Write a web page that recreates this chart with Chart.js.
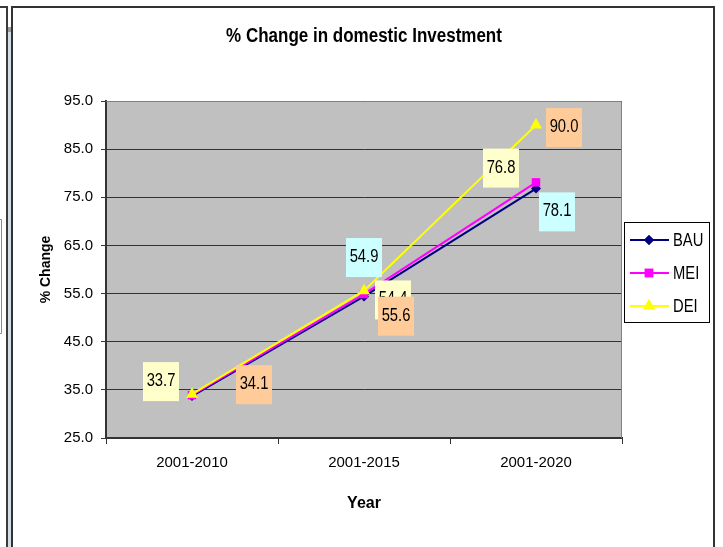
<!DOCTYPE html>
<html>
<head>
<meta charset="utf-8">
<script src="https://cdn.jsdelivr.net/npm/chart.js@4.4.1/dist/chart.umd.min.js"></script>
<style>
  html, body { margin: 0; padding: 0; background: #fff; }
  #wrap { position: relative; width: 723px; height: 547px; }
</style>
</head>
<body>
<div id="wrap"><canvas id="grafico" width="723" height="547"></canvas></div>
<script>
const categorias = ['2001-2010', '2001-2015', '2001-2020'];
const bau = [33.7, 54.4, 76.8];
const mei = [33.9, 54.9, 78.1];
const dei = [34.1, 55.6, 90.0];
const seriesNombres = ['BAU', 'MEI', 'DEI'];
const ejeYMin = 25;
const ejeYMax = 95;
const ejeYPaso = 10;

const fuente = "'Liberation Sans', Arial, sans-serif";

// where each value box sits relative to its point (null = not shown)
const desfases = [
    [[-31, -15], [29, 3], [-35, -21]],
    [null, [0, -37], [21, 29]],
    [[62, -10], [32, 25], [28, 2]]
];
const coloresCaja = ['#FFFFCC', '#CCFFFF', '#FFCC99'];

// the original text is narrow, so squeeze it sideways
function textoAngosto(ctx, texto, x, y, escala) {
    ctx.save();
    ctx.translate(x, y);
    ctx.scale(escala, 1);
    ctx.fillText(texto, 0, 0);
    ctx.restore();
}

const marcoPlugin = {
    id: 'marco',
    beforeDraw(chart) {
        const ctx = chart.ctx;
        const a = chart.chartArea;
        ctx.save();
        // bits of the sheet on the left
        ctx.fillStyle = '#d3dde8';
        ctx.fillRect(8, 30, 3, 517);
        ctx.fillStyle = '#9a9a9a';
        ctx.fillRect(8, 27, 3, 5);
        ctx.strokeStyle = '#3a3a3a';
        ctx.lineWidth = 2;
        ctx.beginPath();
        ctx.moveTo(0, 7); ctx.lineTo(7, 7); ctx.lineTo(7, 547);
        ctx.stroke();
        ctx.strokeStyle = '#8a8a8a';
        ctx.lineWidth = 1;
        ctx.beginPath();
        ctx.moveTo(0, 219.5); ctx.lineTo(1.5, 219.5); ctx.lineTo(1.5, 333.5); ctx.lineTo(0, 333.5);
        ctx.stroke();
        // chart frame
        ctx.strokeStyle = '#333';
        ctx.lineWidth = 2;
        ctx.beginPath();
        ctx.moveTo(12, 548); ctx.lineTo(12, 7); ctx.lineTo(714, 7); ctx.lineTo(714, 548);
        ctx.stroke();
        // plot area
        ctx.fillStyle = '#C0C0C0';
        ctx.fillRect(a.left, a.top, a.right - a.left, a.bottom - a.top);
        // title
        ctx.fillStyle = '#000';
        ctx.font = 'bold 20px ' + fuente;
        ctx.textAlign = 'center';
        ctx.textBaseline = 'middle';
        textoAngosto(ctx, '% Change in domestic Investment', 364, 36, 0.85);
        ctx.restore();
    },
    beforeDatasetsDraw(chart) {
        const ctx = chart.ctx;
        const a = chart.chartArea;
        ctx.save();
        ctx.strokeStyle = '#808080';
        ctx.lineWidth = 1;
        ctx.beginPath();
        ctx.moveTo(a.left, a.top + 0.5); ctx.lineTo(a.right - 0.5, a.top + 0.5); ctx.lineTo(a.right - 0.5, a.bottom);
        ctx.stroke();
        ctx.restore();
    }
};

const etiquetasPlugin = {
    id: 'etiquetas',
    afterDatasetsDraw(chart) {
        const ctx = chart.ctx;
        ctx.save();
        ctx.font = '18px ' + fuente;
        ctx.textAlign = 'center';
        ctx.textBaseline = 'middle';
        chart.data.datasets.forEach((ds, i) => {
            const meta = chart.getDatasetMeta(i);
            meta.data.forEach((p, j) => {
                const d = desfases[i][j];
                if (!d) return;
                const cx = p.x + d[0];
                const cy = p.y + d[1];
                ctx.fillStyle = coloresCaja[i];
                ctx.fillRect(cx - 18, cy - 19, 36, 39);
                ctx.fillStyle = '#000';
                textoAngosto(ctx, ds.data[j].toFixed(1), cx, cy, 0.82);
            });
        });
        ctx.restore();
    }
};

const leyendaPlugin = {
    id: 'leyenda',
    afterDraw(chart) {
        const ctx = chart.ctx;
        ctx.save();
        ctx.fillStyle = '#fff';
        ctx.fillRect(624, 222, 85, 100);
        ctx.strokeStyle = '#000';
        ctx.lineWidth = 1;
        ctx.strokeRect(624.5, 222.5, 85, 100);
        ctx.font = '18px ' + fuente;
        ctx.textAlign = 'left';
        ctx.textBaseline = 'middle';
        chart.data.datasets.forEach((ds, i) => {
            const y = 240 + i * 33;
            ctx.strokeStyle = ds.borderColor;
            ctx.lineWidth = 2;
            ctx.beginPath();
            ctx.moveTo(630, y); ctx.lineTo(669, y);
            ctx.stroke();
            ctx.fillStyle = ds.pointBackgroundColor;
            Chart.helpers.drawPoint(ctx, {
                pointStyle: ds.pointStyle, radius: ds.pointRadius, rotation: 0, borderWidth: 0
            }, 649, y);
            ctx.fill();
            ctx.fillStyle = '#000';
            textoAngosto(ctx, seriesNombres[i], 673, y + 1, 0.82);
        });
        ctx.restore();
    }
};

const ctx = document.getElementById('grafico').getContext('2d');

new Chart(ctx, {
    type: 'line',
    data: {
        labels: categorias,
        datasets: [
            {
                label: seriesNombres[0], data: bau, order: 2,
                borderColor: '#000080', backgroundColor: '#000080', pointBackgroundColor: '#000080',
                pointBorderColor: '#000080', borderWidth: 2, pointStyle: 'rectRot', pointRadius: 5, pointBorderWidth: 0
            },
            {
                label: seriesNombres[1], data: mei, order: 1,
                borderColor: '#FF00FF', backgroundColor: '#FF00FF', pointBackgroundColor: '#FF00FF',
                pointBorderColor: '#FF00FF', borderWidth: 2, pointStyle: 'rect', pointRadius: 6, pointBorderWidth: 0
            },
            {
                label: seriesNombres[2], data: dei, order: 0,
                borderColor: '#FFFF00', backgroundColor: '#FFFF00', pointBackgroundColor: '#FFFF00',
                pointBorderColor: '#FFFF00', borderWidth: 2, pointStyle: 'triangle', pointRadius: 7, pointBorderWidth: 0
            }
        ]
    },
    options: {
        responsive: false,
        animation: false,
        devicePixelRatio: 1,
        layout: { padding: { top: 101, right: 101, left: 0, bottom: 0 } },
        plugins: {
            legend: { display: false },
            title: { display: false },
            tooltip: { enabled: false }
        },
        scales: {
            x: {
                type: 'category',
                offset: true,
                grid: { display: true, drawOnChartArea: false, drawTicks: true, tickLength: 6, offset: true, color: '#333' },
                border: { display: true, color: '#333', width: 2 },
                ticks: { color: '#000', padding: 10, font: { family: fuente, size: 15 } },
                title: { display: true, text: 'Year', color: '#000', font: { family: fuente, size: 16, weight: 'bold' }, padding: { top: 0, bottom: 34 } },
                afterFit(scale) { scale.height = 109; }
            },
            y: {
                min: ejeYMin,
                max: ejeYMax,
                grid: { color: '#333', lineWidth: 1, tickLength: 5, drawTicks: true },
                border: { display: true, color: '#333', width: 2 },
                ticks: {
                    stepSize: ejeYPaso, color: '#000', padding: 8,
                    font: { family: fuente, size: 15 },
                    callback: v => v.toFixed(1)
                },
                title: { display: true, text: '% Change', color: '#000', font: { family: fuente, size: 14, weight: 'bold' }, padding: { top: 38, bottom: 0 } },
                afterFit(scale) { scale.width = 106; }
            }
        }
    },
    plugins: [marcoPlugin, etiquetasPlugin, leyendaPlugin]
});
</script>
</body>
</html>
